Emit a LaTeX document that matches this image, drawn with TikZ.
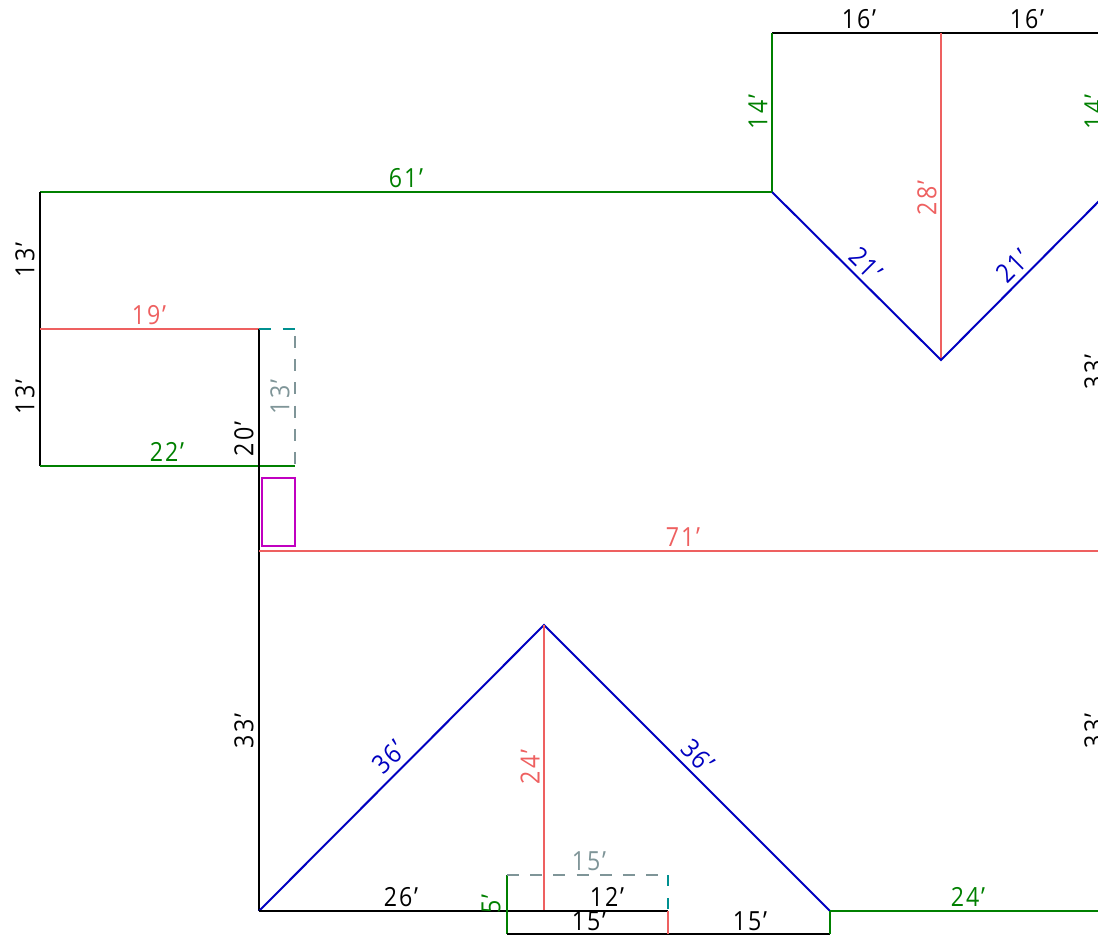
\documentclass[tikz,border=0pt]{standalone}
\usepackage{fontspec}
\setmainfont{Open Sans}[LetterSpace=7,FakeStretch=0.88]
\definecolor{roofred}{HTML}{EE6060}
\definecolor{roofgreen}{HTML}{008000}
\definecolor{roofblue}{HTML}{0000C0}
\definecolor{roofgrey}{HTML}{7F9598}
\definecolor{roofteal}{HTML}{009090}
\definecolor{roofpink}{HTML}{C000C0}
\tikzset{
  edge/.style={line width=1.13pt},
  dim/.style={inner sep=0pt,font=\fontsize{15}{16}\selectfont},
  gapped/.style={dash pattern=on 6.8pt off 6.4pt}
}
\begin{document}
\begin{tikzpicture}[x=0.02cm,y=-0.02cm]
\clip (0,0) rectangle (1098,935);
% upper wing
\draw [edge,color=black] (772,33)--(1110,33);
\draw [edge,color=roofgreen] (772,33)--(772,192);
\draw [edge,color=roofred] (941,33)--(941,360);
\draw [edge,color=roofblue] (772,192)--(941,360)--(1110,190);
\draw [edge,color=roofgreen] (40,192)--(772,192);
% left wing
\draw [edge,color=black] (40,192)--(40,466);
\draw [edge,color=roofred] (40,329)--(259,329);
\draw [edge,color=roofgreen] (40,466)--(295,466);
\draw [edge,color=black] (259,329)--(259,911);
\draw [edge,color=roofteal,dash pattern=on 6.8pt off 6.8pt] (259,329)--(295,329);
\draw [edge,color=roofgrey,gapped] (295,336)--(295,466);
\draw [edge,color=roofpink] (262,478) rectangle (295,546);
\draw [edge,color=roofred] (259,551)--(1110,551);
% gable and porch
\draw [edge,color=roofblue] (259,911)--(544,625)--(830,911);
\draw [edge,color=roofred] (544,625)--(544,911);
\draw [edge,color=black] (259,911)--(668,911);
\draw [edge,color=roofgreen] (830,911)--(1110,911);
\draw [edge,color=roofgreen] (507,875)--(507,934);
\draw [edge,color=black] (507,934)--(830,934);
\draw [edge,color=roofgreen] (830,911)--(830,934);
\draw [edge,color=roofgrey,gapped] (507,875)--(668,875);
\draw [edge,color=roofteal,dash pattern=on 6.2pt off 7pt] (668,875)--(668,911);
\draw [edge,color=roofred] (668,911)--(668,934);
% labels
\node [dim] at (859,19) {16'};
\node [dim] at (1027,19) {16'};
\node [dim,rotate=90,color=roofgreen] at (758,112) {14'};
\node [dim,rotate=90,color=roofgreen] at (1094,112) {14'};
\node [dim,color=roofgreen] at (406,178) {61'};
\node [dim,rotate=90,color=roofred] at (927,198) {28'};
\node [dim,rotate=-45,color=roofblue] at (866,264) {21'};
\node [dim,rotate=45,color=roofblue] at (1013,266) {21'};
\node [dim,rotate=90] at (25,260) {13'};
\node [dim,rotate=90] at (25,397) {13'};
\node [dim,color=roofred] at (149,315) {19'};
\node [dim,rotate=90,color=roofgrey] at (280,397) {13'};
\node [dim,color=roofgreen] at (167,452) {22'};
\node [dim,rotate=90] at (244,439) {20'};
\node [dim,color=roofred] at (683,537) {71'};
\node [dim,rotate=90] at (1094,372) {33'};
\node [dim,rotate=90] at (244,731) {33'};
\node [dim,rotate=90] at (1094,731) {33'};
\node [dim,rotate=45,color=roofblue] at (389,757) {36'};
\node [dim,rotate=-45,color=roofblue] at (698,756) {36'};
\node [dim,rotate=90,color=roofred] at (530,767) {24'};
\node [dim,color=roofgrey] at (589,861) {15'};
\node [dim] at (401,897) {26'};
\node [dim] at (607,897) {12'};
\node [dim] at (589,921) {15'};
\node [dim] at (750,921) {15'};
\node [dim,color=roofgreen] at (968,897) {24'};
\node [dim,rotate=90,color=roofgreen] at (491,904) {5'};
\end{tikzpicture}
\end{document}
